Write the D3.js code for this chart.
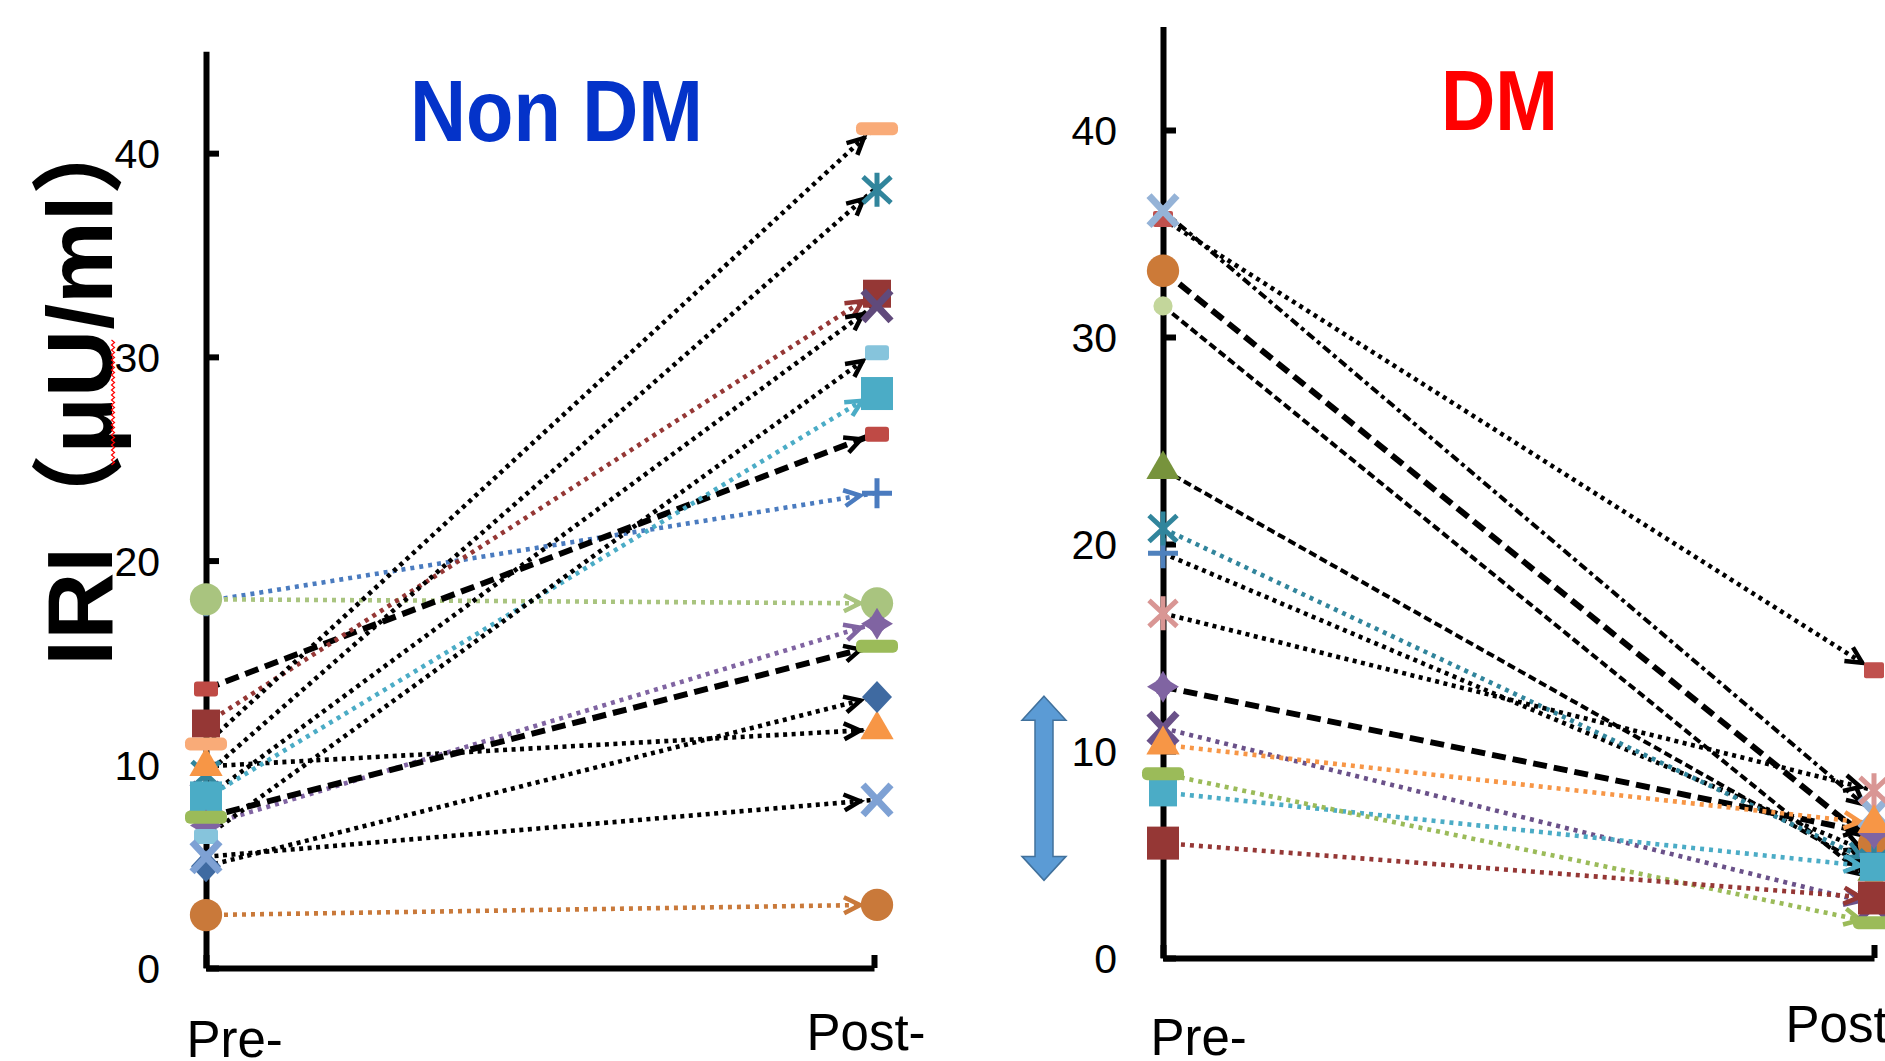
<!DOCTYPE html>
<html>
<head>
<meta charset="utf-8">
<script src="https://cdn.jsdelivr.net/npm/d3@7"></script>
<style>
  html, body { margin: 0; background: #fff; }
  svg { display: block; }
</style>
</head>
<body>
<div id="chart"></div>
<script>
// ---- data ----
const groups = ["Pre-", "Post-"];
const yTicks = [0, 10, 20, 30, 40];

const nonDmSeries = ["blue plus", "green circle", "red rect", "dark red square", "teal asterisk",
  "purple x", "orange triangle", "peach dash", "teal square", "purple star",
  "green dash", "light blue rect", "blue diamond", "blue x", "brown circle"];
const nonDmPre  = [18.0, 18.1, 13.7, 12.0, 9.5, 8.35, 9.9, 11.0, 8.35, 7.0, 7.4, 6.45, 5.0, 5.46, 2.6];
const nonDmPost = [23.3, 17.9, 26.2, 33.1, 38.2, 32.5, 11.7, 41.2, 28.2, 16.9, 15.8, 30.2, 13.3, 8.25, 3.1];

const dmSeries = ["red square", "light blue x", "brown circle", "light green circle", "olive triangle",
  "blue plus", "teal asterisk", "pink asterisk", "purple star", "purple x",
  "orange triangle", "teal square", "green dash", "dark red square"];
const dmPre  = [35.7, 36.1, 33.2, 31.5, 23.6, 19.55, 20.75, 16.65, 13.1, 11.1, 10.3, 8.0, 8.9, 5.55];
const dmPost = [13.9, 7.0, 5.5, 3.6, 4.2, 5.0, 4.6, 8.1, 6.0, 2.6, 6.5, 4.4, 1.7, 2.9];

// span of the blue double arrow in the DM panel (y units)
const dmArrowSpan = [3.75, 12.65];

// ---- styles (same order as the series) ----
const nonDmStyles = [
  { c: "#4a7bbf", m: "plus", l: "cdot" },
  { c: "#a9c47f", m: "circle", l: "cdot" },
  { c: "#bf4a45", m: "rect", l: "bdash" },
  { c: "#953735", m: "square", l: "cdot" },
  { c: "#31859c", m: "asterisk", l: "bdot" },
  { c: "#604a7b", m: "x", l: "bdot" },
  { c: "#f79646", m: "triangle", l: "bdot" },
  { c: "#f9ab78", m: "dash", l: "bdot" },
  { c: "#4bacc6", m: "bigSquare", l: "cdot" },
  { c: "#8064a2", m: "star", l: "cdot" },
  { c: "#9bbb59", m: "dash", l: "bdash" },
  { c: "#86c4dc", m: "rect", l: "bdot" },
  { c: "#3f6aa1", m: "diamond", l: "bdot" },
  { c: "#7ea1d4", m: "x", l: "bdot" },
  { c: "#c9793a", m: "circle", l: "cdot" }
];
const dmStyles = [
  { c: "#c0504d", m: "smallSquare", l: "bdot" },
  { c: "#95b3d7", m: "x", l: "bdashdot" },
  { c: "#cc7a38", m: "circle", l: "bdash" },
  { c: "#c3d69b", m: "smallCircle", l: "bdashThin" },
  { c: "#77933c", m: "triangle", l: "bdashThin" },
  { c: "#4f81bd", m: "plus", l: "bdot" },
  { c: "#31859c", m: "asterisk", l: "cdot" },
  { c: "#d99694", m: "asterisk", l: "bdot" },
  { c: "#8064a2", m: "star", l: "bdash" },
  { c: "#6a5189", m: "x", l: "cdot" },
  { c: "#f79646", m: "triangle", l: "cdot" },
  { c: "#4bacc6", m: "square", l: "cdot" },
  { c: "#9bbb59", m: "dash", l: "cdot" },
  { c: "#953735", m: "bigSquare", l: "cdot" }
];

const lineKinds = {
  bdot:      { black: true,  w: 4.6, dash: "4 4.5" },
  bdash:     { black: true,  w: 6,   dash: "14 7" },
  bdashThin: { black: true,  w: 4,   dash: "8 4" },
  bdashdot:  { black: true,  w: 4,   dash: "9 4 4 4" },
  cdot:      { black: false, w: 4.6, dash: "4 5" }
};

const FONT = "'Liberation Sans', Arial, 'Noto Sans CJK SC', sans-serif";

const width = 1885, height = 1061;
const svg = d3.select("#chart").append("svg")
  .attr("width", width)
  .attr("height", height);
svg.append("rect").attr("width", width).attr("height", height).attr("fill", "#fff");
const defs = svg.append("defs");

function drawMarker(g, type, color) {
  if (type === "circle") {
    g.append("path").attr("d", d3.symbol(d3.symbolCircle, 820)()).attr("fill", color);
  } else if (type === "smallCircle") {
    g.append("path").attr("d", d3.symbol(d3.symbolCircle, 290)()).attr("fill", color);
  } else if (type === "square") {
    g.append("rect").attr("x", -14).attr("y", -14).attr("width", 28).attr("height", 28).attr("fill", color);
  } else if (type === "bigSquare") {
    g.append("rect").attr("x", -16).attr("y", -16.5).attr("width", 32).attr("height", 33).attr("fill", color);
  } else if (type === "smallSquare") {
    g.append("rect").attr("x", -10).attr("y", -8).attr("width", 20).attr("height", 16).attr("rx", 2).attr("fill", color);
  } else if (type === "rect") {
    g.append("rect").attr("x", -12).attr("y", -7.5).attr("width", 24).attr("height", 15).attr("rx", 3).attr("fill", color);
  } else if (type === "dash") {
    g.append("rect").attr("x", -21).attr("y", -6.5).attr("width", 42).attr("height", 13).attr("rx", 5).attr("fill", color);
  } else if (type === "triangle") {
    g.append("path").attr("d", d3.symbol(d3.symbolTriangle, 480)()).attr("fill", color);
  } else if (type === "diamond") {
    g.append("path").attr("d", "M0,-16L15,0L0,16L-15,0Z").attr("fill", color);
  } else if (type === "star") {
    g.append("path").attr("d", "M0,-16L6,-6L16,0L6,6L0,16L-6,6L-16,0L-6,-6Z").attr("fill", color);
    g.append("circle").attr("r", 9).attr("fill", color);
  } else if (type === "x") {
    g.append("path").attr("d", "M-14,-15L14,15M14,-15L-14,15")
      .attr("stroke", color).attr("stroke-width", 7).attr("fill", "none");
  } else if (type === "asterisk") {
    g.append("path").attr("d", "M-14,-13L14,13M14,-13L-14,13M0,-17V17")
      .attr("stroke", color).attr("stroke-width", 5).attr("fill", "none");
  } else if (type === "plus") {
    g.append("path").attr("d", "M-15,0H15M0,-15V15")
      .attr("stroke", color).attr("stroke-width", 5).attr("fill", "none");
  }
}

function drawPanel(cfg) {
  const x = d3.scalePoint().domain(groups).range([cfg.xPre, cfg.xPost]);
  const y = d3.scaleLinear().domain([0, 45]).range([cfg.y0, cfg.yTop]);
  const g = svg.append("g");

  // y axis, inner ticks
  const ya = g.append("g")
    .attr("transform", `translate(${cfg.xPre},0)`)
    .call(d3.axisLeft(y).tickValues(yTicks).tickSize(-13).tickSizeOuter(0).tickPadding(46));
  ya.select(".domain").attr("stroke", "#000").attr("stroke-width", 6);
  ya.selectAll(".tick line").attr("stroke", "#000").attr("stroke-width", 6);
  ya.selectAll(".tick text")
    .attr("font-family", FONT).attr("font-size", 41).attr("fill", "#000").attr("dy", "0.36em");

  // x axis
  const xa = g.append("g")
    .attr("transform", `translate(0,${cfg.y0})`)
    .call(d3.axisBottom(x).tickSize(-13).tickSizeOuter(0));
  xa.select(".domain").attr("stroke", "#000").attr("stroke-width", 6);
  xa.selectAll(".tick line").attr("stroke", "#000").attr("stroke-width", 6);
  xa.selectAll(".tick text")
    .attr("font-family", FONT).attr("font-size", 51).attr("fill", "#000")
    .attr("text-anchor", "start")
    .attr("dy", 0)
    .attr("x", (d, i) => cfg.labelDx[i])
    .attr("y", (d, i) => cfg.labelBase[i] - cfg.y0);

  // connecting lines with open arrowheads at the post end
  const line = d3.line().x(d => x(d[0])).y(d => y(d[1]));
  cfg.pre.forEach((v, i) => {
    const st = cfg.styles[i];
    const kind = lineKinds[st.l];
    const col = kind.black ? "#000" : st.c;
    const id = `arr-${cfg.id}-${i}`;
    const mk = defs.append("marker")
      .attr("id", id)
      .attr("markerUnits", "userSpaceOnUse")
      .attr("viewBox", "0 0 18 18")
      .attr("markerWidth", 18).attr("markerHeight", 18)
      .attr("refX", 30).attr("refY", 9)
      .attr("orient", "auto")
      .style("overflow", "visible");
    mk.append("path").attr("d", "M0,1L16,9L0,17")
      .attr("fill", "none").attr("stroke", col).attr("stroke-width", 4.5);
    g.append("path")
      .datum([["Pre-", v], ["Post-", cfg.post[i]]])
      .attr("d", line)
      .attr("fill", "none")
      .attr("stroke", col)
      .attr("stroke-width", kind.w)
      .attr("stroke-dasharray", kind.dash)
      .attr("marker-end", `url(#${id})`);
  });

  // markers
  cfg.pre.forEach((v, i) => {
    const st = cfg.styles[i];
    drawMarker(g.append("g").attr("transform", `translate(${x("Pre-")},${y(v)})`), st.m, st.c);
    drawMarker(g.append("g").attr("transform", `translate(${x("Post-") + cfg.postShift},${y(cfg.post[i])})`), st.m, st.c);
  });

  // title
  g.append("text")
    .attr("x", cfg.titleX).attr("y", cfg.titleY)
    .attr("font-family", FONT).attr("font-weight", "bold")
    .attr("font-size", cfg.titleSize)
    .attr("textLength", cfg.titleLen).attr("lengthAdjust", "spacingAndGlyphs")
    .attr("fill", cfg.titleColor)
    .text(cfg.title);

  return { x, y, g };
}

drawPanel({
  id: "non", title: "Non DM", titleColor: "#0433c9",
  titleX: 410, titleY: 141, titleSize: 88, titleLen: 293,
  xPre: 206, xPost: 874, y0: 968, yTop: 51.3, postShift: 3,
  labelDx: [-20, -68], labelBase: [1057, 1050],
  pre: nonDmPre, post: nonDmPost, styles: nonDmStyles
});

const dm = drawPanel({
  id: "dm", title: "DM", titleColor: "#ff0000",
  titleX: 1441, titleY: 130, titleSize: 85, titleLen: 117,
  xPre: 1163, xPost: 1874, y0: 958, yTop: 26.5, postShift: 0,
  labelDx: [-13, -89], labelBase: [1055, 1042],
  pre: dmPre, post: dmPost, styles: dmStyles
});

// blue double arrow beside the DM axis
{
  const cx = 1044;
  const yT = dm.y(dmArrowSpan[1]), yB = dm.y(dmArrowSpan[0]);
  const hw = 22, sw = 9, hh = 24;
  const p = d3.path();
  p.moveTo(cx, yT);
  p.lineTo(cx + hw, yT + hh);
  p.lineTo(cx + sw, yT + hh);
  p.lineTo(cx + sw, yB - hh);
  p.lineTo(cx + hw, yB - hh);
  p.lineTo(cx, yB);
  p.lineTo(cx - hw, yB - hh);
  p.lineTo(cx - sw, yB - hh);
  p.lineTo(cx - sw, yT + hh);
  p.lineTo(cx - hw, yT + hh);
  p.closePath();
  svg.append("path").attr("d", p.toString())
    .attr("fill", "#5b9bd5").attr("stroke", "#41719c").attr("stroke-width", 1.5);
}

// y axis title
svg.append("text")
  .attr("transform", "translate(112,384) rotate(-90)")
  .attr("text-anchor", "middle")
  .attr("font-family", FONT).attr("font-weight", "bold").attr("font-size", 93)
  .attr("fill", "#000")
  .text("IRI（μU/ml）");

// red spell-check squiggle under "μU"
{
  const pts = d3.range(340, 466, 2.5).map((yy, k) => [113 + (k % 2 ? 1.5 : -1.5), yy]);
  svg.append("path").attr("d", d3.line()(pts))
    .attr("fill", "none").attr("stroke", "#ff0000").attr("stroke-width", 1.2);
}
</script>
</body>
</html>
